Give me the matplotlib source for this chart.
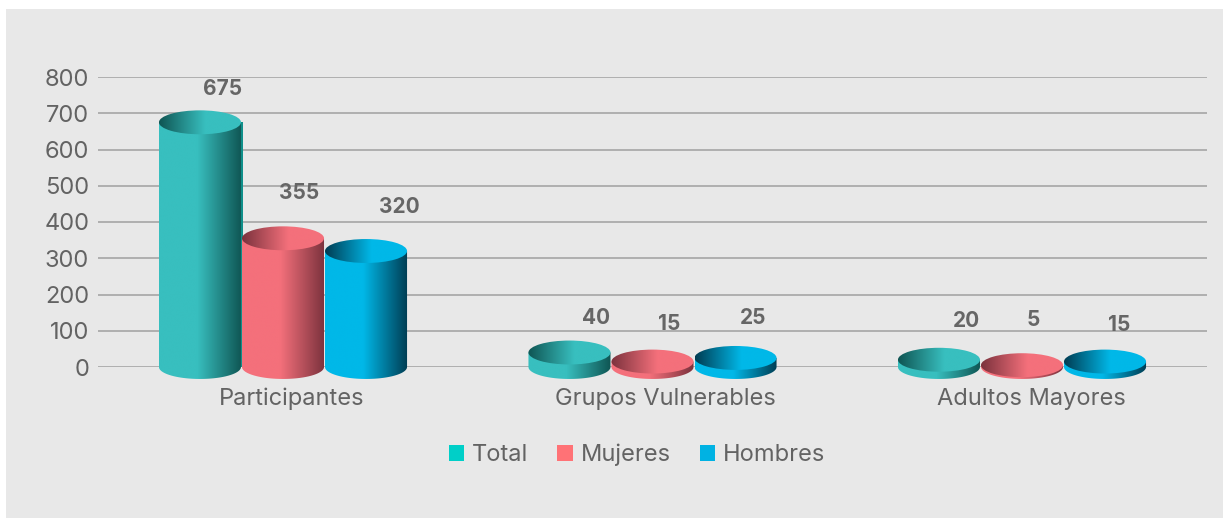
import numpy as np
import matplotlib
matplotlib.use("Agg")
import matplotlib.pyplot as plt
from matplotlib.colors import LinearSegmentedColormap
from matplotlib.patches import Ellipse, Patch, PathPatch, Rectangle
from matplotlib.path import Path
from matplotlib.transforms import ScaledTranslation

categories = ["Participantes", "Grupos Vulnerables", "Adultos Mayores"]
series_names = ["Total", "Mujeres", "Hombres"]
total = [675, 40, 20]
mujeres = [355, 15, 5]
hombres = [320, 25, 15]
y_ticks = [0, 100, 200, 300, 400, 500, 600, 700, 800]

W, H = 1223, 518
BAR_W = 0.222
BAR_STEP = 0.2247
ELL_H = 66  # ellipse height in data units, about 24 px
TEXT = "#636363"
FONT = "Inter"

bright = ["#38bfbf", "#f4707b", "#00b8e8"]
dark = ["#0f5553", "#7b323d", "#003c52"]
legend_cols = ["#00cfc8", "#ff7276", "#00b2e3"]

# hand placed data labels, pixel offset from top of each bar
label_offsets = [
    [(23, 33), (16, 45), (33, 44)],
    [(27, 34), (17, 38), (18, 40)],
    [(27, 39), (11, 45), (14, 37)],
]
# category labels sit a little right of their groups, in pixels
cat_shift = [8.5, 12.5, 9]


def gradient_fill(ax, patch, x0, x1, y0, y1, cmap, fig):
    ax.add_patch(patch)
    grad = np.linspace(0, 1, 256).reshape(1, -1)
    im = ax.imshow(grad, cmap=cmap, aspect="auto", extent=[x0, x1, y0, y1],
                   zorder=patch.get_zorder(), interpolation="bilinear")
    im.set_clip_box(fig.bbox)
    im.set_clip_path(patch)


def cylinder(ax, fig, cx, val, bright_c, dark_c, z):
    x0, x1 = cx - BAR_W / 2, cx + BAR_W / 2
    side_map = LinearSegmentedColormap.from_list(
        "s", [(0, bright_c), (0.46, bright_c), (1, dark_c)])
    top_map = LinearSegmentedColormap.from_list(
        "t", [(0, dark_c), (0.56, bright_c), (1, bright_c)])

    t = np.linspace(np.pi, 2 * np.pi, 60)
    xs = cx + BAR_W / 2 * np.cos(t)
    ys = ELL_H / 2 * np.sin(t)
    verts = [(x0, val)] + list(zip(xs, ys)) + [(x1, val), (x0, val)]
    side = PathPatch(Path(verts), fc="none", ec="none", zorder=z)
    gradient_fill(ax, side, x0, x1, -ELL_H, val, side_map, fig)

    top = Ellipse((cx, val), BAR_W, ELL_H, fc="none", ec="none", zorder=z + 0.5)
    gradient_fill(ax, top, x0, x1, val - ELL_H, val + ELL_H, top_map, fig)


def main():
    fig = plt.figure(figsize=(W / 100, H / 100), dpi=100, facecolor="white")
    fig.add_artist(Rectangle((6 / W, 0), (W - 6) / W, 1 - 9 / H, zorder=-5,
                             transform=fig.transFigure, fc="#e8e8e8", ec="none"))
    ax = fig.add_axes([98.25 / W, 1 - 367 / H, 1108.5 / W, 290 / H])
    ax.patch.set_alpha(0)

    values = [total, mujeres, hombres]
    x = np.arange(len(categories))
    for s in range(3):
        for i in x:
            cx = i + (s - 1) * BAR_STEP
            cylinder(ax, fig, cx, values[s][i], bright[s], dark[s], 3 + s)
            dx, dy = label_offsets[i][s]
            ax.annotate(str(values[s][i]), (cx, values[s][i]), xytext=(dx, dy),
                        textcoords="offset pixels", ha="center", va="center",
                        fontsize=15, fontweight="bold", color="#666666",
                        family=FONT, zorder=10, annotation_clip=False)

    # the odd strip on the right of the first bar
    ax.bar(x[0] - BAR_STEP + BAR_W / 2 + 0.0025, total[0], width=0.005, color="#0f8f8a", zorder=2.5)

    ax.set_xlim(-0.5, 2.5)
    ax.set_ylim(0, 800)
    ax.set_yticks(y_ticks)
    ax.set_xticks(x)
    ax.set_xticklabels(categories, family=FONT, fontsize=17, color=TEXT)
    ax.set_yticklabels([str(v) for v in y_ticks], family=FONT, fontsize=17, color=TEXT)
    ax.tick_params(axis="y", length=0, pad=6.5)
    ax.tick_params(axis="x", length=0, pad=15)
    ax.grid(axis="y", color="#aaaaaa", lw=1.3, zorder=1)
    ax.set_axisbelow(True)
    for sp in ax.spines.values():
        sp.set_visible(False)
    for lab, shift in zip(ax.get_xticklabels(), cat_shift):
        lab.set_transform(lab.get_transform() + ScaledTranslation(shift / 100, 0, fig.dpi_scale_trans))

    handles = [Patch(fc=c, ec="none") for c in legend_cols]
    fig.legend(handles, series_names, loc="center", ncol=3, frameon=False,
               bbox_to_anchor=(637 / W, 1 - 455 / H),
               prop={"family": FONT, "size": 17}, labelcolor=TEXT,
               handlelength=0.64, handleheight=0.64, handletextpad=0.34,
               columnspacing=1.23)

    fig.savefig("out.png", dpi=100, facecolor="white")


if __name__ == "__main__":
    main()
